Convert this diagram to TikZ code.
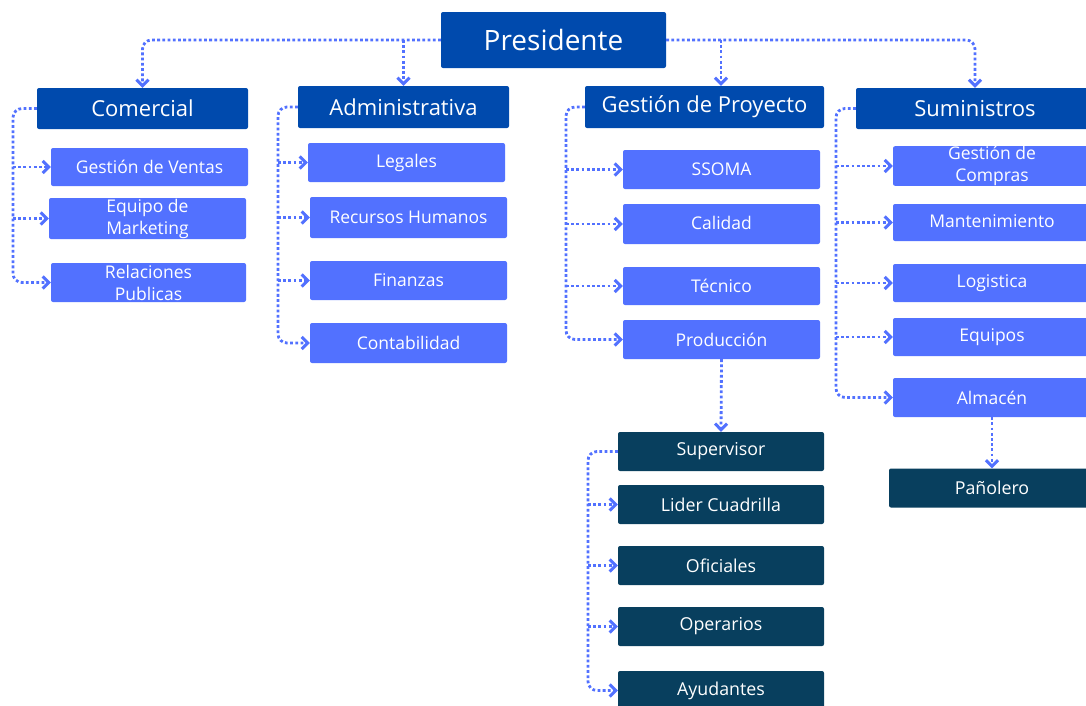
\documentclass[tikz,border=0pt]{standalone}
\usepackage{fontspec}
\setmainfont{Open Sans}
\usetikzlibrary{arrows.meta,calc}
\definecolor{dblue}{HTML}{004AAD}
\definecolor{lblue}{HTML}{5271FF}
\definecolor{dteal}{HTML}{083F5E}
\begin{document}
\begin{tikzpicture}[x=1pt,y=-1pt,
  box/.style={rectangle, rounded corners=2pt, inner sep=0pt, text=white, align=center},
  lvlzero/.style={box, fill=dblue, minimum width=225pt, minimum height=56pt, font=\fontsize{28}{30}\selectfont},
  lvlone/.style={box, fill=dblue, minimum height=41pt, font=\fontsize{22}{24}\selectfont},
  lvltwo/.style={box, fill=lblue, minimum width=197pt, minimum height=39pt, font=\fontsize{17.5}{22}\selectfont},
  lvlthree/.style={box, fill=dteal, minimum width=206pt, minimum height=39pt, font=\fontsize{17.8}{22}\selectfont},
  conn/.style={draw=lblue, line width=2.8pt, dash pattern=on 2.8pt off 2.4pt, rounded corners=9pt},
  arr/.style={conn, -{Straight Barb[length=6pt,width=12pt,line width=3pt]}}
]
\useasboundingbox (0,0) rectangle (1086,705);

% level 0
\node[lvlzero] (pres) at (553.5,40) {Presidente};

% level 1
\node[lvlone, minimum width=211pt] (com) at (142.5,108.5) {Comercial};
\node[lvlone, minimum width=211pt, minimum height=42pt] (adm) at (403.5,107) {Administrativa};
\node[lvlone, minimum width=239pt, minimum height=42pt] (gdp) at (704.5,107) {Gestión de Proyecto};
\node[lvlone, minimum width=238pt] (sum) at (975,108.5) {Suministros};

% Comercial children
\node[lvltwo, minimum height=38pt] (gv) at (149.5,167) {Gestión de Ventas};
\node[lvltwo, minimum height=41pt] (em) at (147.5,218.5) {Equipo de\\Marketing};
\node[lvltwo, minimum width=195pt] (rp) at (148.5,282.5) {Relaciones\\Publicas};

% Administrativa children
\node[lvltwo] (leg) at (406.5,162.5) {Legales};
\node[lvltwo, minimum height=41pt] (rh) at (408.5,217.5) {Recursos Humanos};
\node[lvltwo] (fin) at (408.5,280.5) {Finanzas};
\node[lvltwo, minimum height=40pt] (con) at (408.5,343) {Contabilidad};

% Gestion de Proyecto children
\node[lvltwo] (sso) at (721.5,169.5) {SSOMA};
\node[lvltwo, minimum height=40pt] (cal) at (721.5,224) {\raisebox{2pt}{Calidad}};
\node[lvltwo, minimum height=38pt] (tec) at (721.5,286) {Técnico};
\node[lvltwo] (pro) at (721.5,339.5) {Producción};

% Suministros children
\node[lvltwo, minimum width=198pt, minimum height=38pt] (gc) at (992,166) {Gestión de\\Compras};
\node[lvltwo, minimum width=198pt, minimum height=37pt] (man) at (992,222.5) {\raisebox{3pt}{Mantenimiento}};
\node[lvltwo, minimum width=198pt, minimum height=38pt] (log) at (992,283) {Logistica};
\node[lvltwo, minimum width=198pt, minimum height=38pt] (equ) at (992,337) {Equipos};
\node[lvltwo, minimum width=198pt] (alm) at (992,397.5) {Almacén};

% Produccion children
\node[lvlthree] (sup) at (721,451.5) {Supervisor};
\node[lvlthree] (lid) at (721,504.5) {Lider Cuadrilla};
\node[lvlthree] (ofi) at (721,565.5) {Oficiales};
\node[lvlthree] (ope) at (721,626.5) {Operarios};
\node[lvlthree] (ayu) at (721,690.5) {Ayudantes};

% Almacen child
\node[lvlthree] (pan) at (992,488) {Pañolero};

% bus coordinates
\coordinate (gdparr) at (721,40);
\coordinate (cbus) at (13,0);
\coordinate (abus) at (278,0);
\coordinate (gbus) at (566,0);
\coordinate (sbus) at (836,0);
\coordinate (pbus) at (588,0);

% top connectors
\draw[arr] (pres.west) -| (com.north);
\draw[arr] (pres.east) -| (sum.north);
\draw[arr] (adm.north |- pres.west) -- (adm.north);
\draw[arr] (gdparr) -- (gdparr |- gdp.north);

% Comercial
\draw[arr] (com.west) -| (cbus |- rp.west) -- (rp.west);
\draw[arr] (cbus |- gv.west) -- (gv.west);
\draw[arr] (cbus |- em.west) -- (em.west);

% Administrativa
\draw[arr] (adm.west) -| (abus |- con.west) -- (con.west);
\draw[arr] (abus |- leg.west) -- (leg.west);
\draw[arr] (abus |- rh.west) -- (rh.west);
\draw[arr] (abus |- fin.west) -- (fin.west);

% Gestion de Proyecto
\draw[arr] (gdp.west) -| (gbus |- pro.west) -- (pro.west);
\draw[arr] (gbus |- sso.west) -- (sso.west);
\draw[arr] (gbus |- cal.west) -- (cal.west);
\draw[arr] (gbus |- tec.west) -- (tec.west);

% Suministros
\draw[arr] (sum.west) -| (sbus |- alm.west) -- (alm.west);
\draw[arr] (sbus |- gc.west) -- (gc.west);
\draw[arr] (sbus |- man.west) -- (man.west);
\draw[arr] (sbus |- log.west) -- (log.west);
\draw[arr] (sbus |- equ.west) -- (equ.west);

% Produccion
\draw[arr] (pro.south) -- (sup.north);
\draw[arr] (sup.west) -| (pbus |- ayu.west) -- (ayu.west);
\draw[arr] (pbus |- lid.west) -- (lid.west);
\draw[arr] (pbus |- ofi.west) -- (ofi.west);
\draw[arr] (pbus |- ope.west) -- (ope.west);

% Almacen
\draw[arr] (alm.south) -- (pan.north);
\end{tikzpicture}
\end{document}
